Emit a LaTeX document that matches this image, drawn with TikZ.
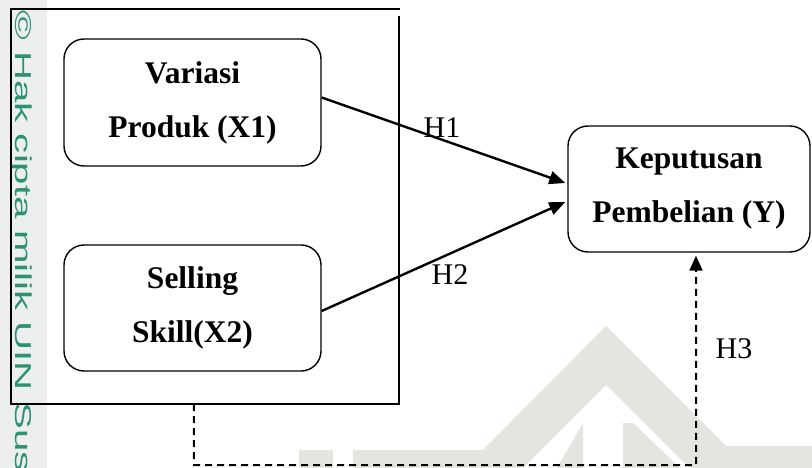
\documentclass[tikz,border=0pt]{standalone}
\usepackage{fontspec}
\usepackage{graphicx}
\setmainfont{Liberation Serif}
\newfontfamily\wmfont{Liberation Sans}
\usetikzlibrary{arrows.meta,calc}
\definecolor{wmteal}{RGB}{45,145,115}
\definecolor{wmgray}{RGB}{227,229,224}
\definecolor{stripgray}{RGB}{237,239,239}
\begin{document}
\begin{tikzpicture}[x=1pt,y=-1pt,
  varbox/.style={draw,line width=1.4pt,rounded corners=20pt,align=center,
    font=\fontsize{31.5}{54}\selectfont\bfseries,inner sep=0pt},
  hlabel/.style={font=\fontsize{30}{36}\selectfont,inner sep=0pt},
  solidarrow/.style={line width=2.4pt,-{Triangle[length=16pt,width=13pt]}},
  dasharrow/.style={line width=2pt,dash pattern=on 7pt off 5pt,-{Triangle[length=15pt,width=13pt]}},
  framestyle/.style={line width=1.6pt}]
\useasboundingbox (0,0) rectangle (812,468);
% watermark background
\fill[stripgray] (0,0) rectangle (47,468);
\fill[wmgray] (353,450) -- (483,450) -- (606,326) -- (726,446) -- (812,446) -- (812,468) -- (353,468) -- cycle;
\fill[white] (523,468) -- (606,385) -- (689,468) -- cycle;
\fill[wmgray] (557,468) -- (583,423) -- (583,468) -- cycle;
\fill[wmgray] (623,423) -- (633,423) -- (680,468) -- (623,468) -- cycle;
\fill[wmgray] (299,450) rectangle (333,468);
\node[rotate=-90,text=wmteal,font=\wmfont\fontsize{23}{23}\selectfont,inner sep=0pt] (wm) at (21,241)
  {\scalebox{1.75}[1]{© Hak cipta milik UIN Sus}};
% frame
\node[minimum width=388pt,minimum height=395pt,inner sep=0pt] (frame) at (205,206.5) {};
\draw[framestyle] ($(frame.north east)+(0,7)$) -- (frame.south east) -- (frame.south west)
  -- (frame.north west) -- ($(frame.north east)+(1,0)$);
% boxes
\node[varbox,minimum width=257pt,minimum height=127pt] (X1) at (192.5,102.5) {Variasi\\Produk (X1)};
\node[varbox,minimum width=257pt,minimum height=126pt] (X2) at (192.5,308) {Selling\\Skill(X2)};
\node[varbox,minimum width=242pt,minimum height=126pt] (Y) at (689,189) {Keputusan\\Pembelian (Y)};
% arrows
\draw[solidarrow] ($(X1.east)+(0,-5)$) -- ($(Y.west)+(-2,-6)$);
\draw[solidarrow] ($(X2.east)+(0,3)$) -- ($(Y.west)+(-2,13)$);
\coordinate (d0) at ($(frame.south west)!0.4716!(frame.south east)$);
\coordinate (d1) at (194,465);
\coordinate (d2) at (696,465);
\coordinate (d3) at ($(Y.south)+(7,3)$);
\draw[dasharrow] (d0) -- (d1) -- (d2) -- (d3);
% labels
\node[hlabel] (h1) at (442,128) {H1};
\node[hlabel] (h2) at (450,275) {H2};
\node[hlabel] (h3) at (734,349) {H3};
\end{tikzpicture}
\end{document}
